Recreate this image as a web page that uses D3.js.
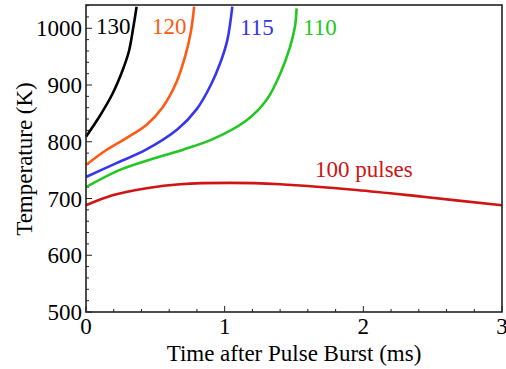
<!DOCTYPE html>
<html>
<head>
<meta charset="utf-8">
<script src="https://cdn.jsdelivr.net/npm/d3@7"></script>
<style>
  body { margin: 0; background: #fff; }
  svg text { font-family: "Liberation Serif", "Times New Roman", serif; }
</style>
</head>
<body>
<svg width="506" height="369"></svg>
<script>
// Temperature (K) vs time after burst (ms), one array per pulse count
const pulses130 = [[0, 809], [0.096, 844], [0.192, 885], [0.264, 926], [0.31, 960], [0.34, 1000], [0.365, 1038]];
const pulses120 = [[0, 759], [0.144, 785], [0.288, 806], [0.433, 829], [0.553, 861], [0.649, 903], [0.72, 955], [0.757, 995], [0.78, 1038]];
const pulses115 = [[0, 738], [0.216, 762], [0.433, 786], [0.66, 822], [0.80, 858], [0.9, 900], [0.97, 940], [1.02, 980], [1.055, 1038]];
const pulses110 = [[0, 720], [0.24, 750], [0.48, 770], [0.70, 786], [0.918, 805], [1.159, 838], [1.303, 874], [1.399, 919], [1.47, 966], [1.507, 1003], [1.519, 1035]];
const pulses100 = [[0, 688], [0.197, 706], [0.437, 718], [0.678, 725], [1.04, 727.5], [1.4, 725], [1.95, 715], [2.43, 703], [3.0, 688]];

const curveLabels = ["130", "120", "115", "110", "100 pulses"];
const curveColors = ["#000000", "#ff5a14", "#3636ee", "#22c822", "#d01414"];
const xTicks = [0, 1, 2, 3];
const yTicks = [500, 600, 700, 800, 900, 1000];

const svg = d3.select("svg");
const plotL = 86, plotR = 502, plotT = 5, plotB = 312;

const x = d3.scaleLinear().domain([0, 3]).range([plotL, plotR]);
const y = d3.scaleLinear().domain([500, 1041]).range([plotB, plotT]);

// ticks, pointing inward
const g = svg.append("g");
g.selectAll(".ymin")
  .data(d3.range(500, 1041, 20))
  .enter().append("line")
  .attr("x1", plotL).attr("x2", (d) => plotL + (d % 100 === 0 ? 6 : 3))
  .attr("y1", (d) => y(d)).attr("y2", (d) => y(d))
  .style("stroke", "#222").style("stroke-width", 1);

g.selectAll(".xmin")
  .data(d3.range(0, 3.01, 0.2))
  .enter().append("line")
  .attr("y1", plotB).attr("y2", (d) => plotB - (Math.abs(d - Math.round(d)) < 1e-6 ? 6 : 3))
  .attr("x1", (d) => x(d)).attr("x2", (d) => x(d))
  .style("stroke", "#222").style("stroke-width", 1);

// tick labels
svg.selectAll(".ylab")
  .data(yTicks)
  .enter().append("text")
  .attr("x", plotL - 4)
  .attr("y", (d) => y(d) + 8)
  .attr("text-anchor", "end")
  .style("font-size", "23px")
  .text((d) => d);

svg.selectAll(".xlab")
  .data(xTicks)
  .enter().append("text")
  .attr("x", (d) => x(d))
  .attr("y", 334)
  .attr("text-anchor", "middle")
  .style("font-size", "23px")
  .text((d) => d);

// curves
const line = d3.line()
  .x((d) => x(d[0]))
  .y((d) => y(d[1]))
  .curve(d3.curveCatmullRom.alpha(0.5));

const allCurves = [pulses130, pulses120, pulses115, pulses110, pulses100];
svg.selectAll(".curve")
  .data(allCurves)
  .enter().append("path")
  .attr("d", line)
  .style("fill", "none")
  .style("stroke", (d, i) => curveColors[i])
  .style("stroke-width", 2.6);

// curve labels
const labelPos = [[96, 34], [152, 34], [240, 35], [303, 35], [315, 177]];
svg.selectAll(".clab")
  .data(curveLabels)
  .enter().append("text")
  .attr("x", (d, i) => labelPos[i][0])
  .attr("y", (d, i) => labelPos[i][1])
  .style("font-size", "23px")
  .style("fill", (d, i) => curveColors[i])
  .text((d) => d);

// frame
svg.append("rect")
  .attr("x", plotL).attr("y", plotT)
  .attr("width", plotR - plotL).attr("height", plotB - plotT)
  .style("fill", "none")
  .style("stroke", "#222")
  .style("stroke-width", 1.6);

// axis titles
svg.append("text")
  .attr("x", (plotL + plotR) / 2)
  .attr("y", 361)
  .attr("text-anchor", "middle")
  .style("font-size", "23px")
  .text("Time after Pulse Burst (ms)");

svg.append("text")
  .attr("transform", "translate(32, 159) rotate(-90)")
  .attr("text-anchor", "middle")
  .style("font-size", "23px")
  .text("Temperature (K)");
</script>
</body>
</html>
